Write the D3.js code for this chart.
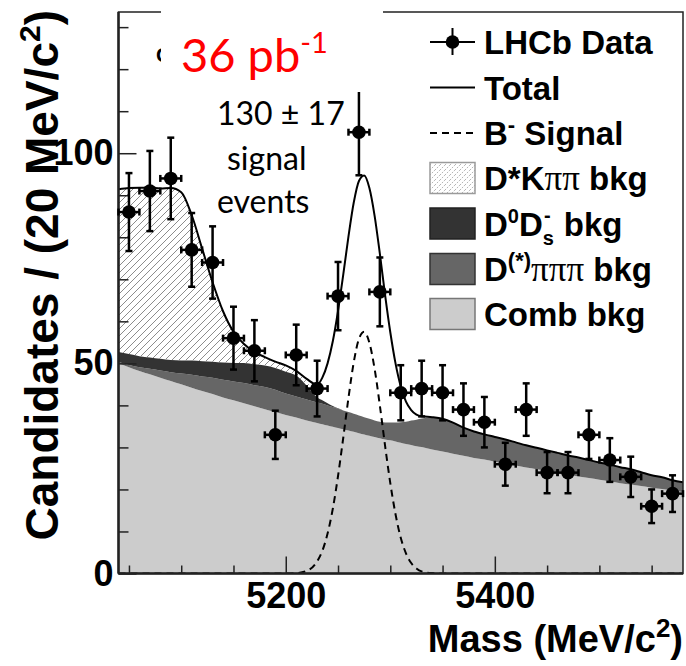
<!DOCTYPE html>
<html>
<head>
<meta charset="utf-8">
<script src="https://cdn.jsdelivr.net/npm/d3@7"></script>
<style>
  html, body { margin: 0; padding: 0; background: #fff; }
  svg { display: block; }
  .root { font-family: "Liberation Sans", Arial, Helvetica, sans-serif; font-weight: bold; }
  .calibri { font-family: Lato, "Open Sans", sans-serif; font-weight: normal; }
</style>
</head>
<body>
<svg id="chart" width="686" height="666"></svg>
<script>
// ---- Data: candidates per 20 MeV/c^2 bin ----
const binMass = [5050, 5070, 5090, 5110, 5130, 5150, 5170, 5190, 5210, 5230, 5250, 5270, 5290, 5310,
                 5330, 5350, 5370, 5390, 5410, 5430, 5450, 5470, 5490, 5510, 5530, 5550, 5570];
const counts = [86, 91, 94, 77, 74, 56, 53, 33, 52, 44, 66, 105, 67, 43,
                44, 43, 39, 36, 26, 39, 24, 24, 33, 27, 23, 16, 19];
const countErr = [9.27, 9.54, 9.70, 8.77, 8.60, 7.48, 7.28, 5.74, 7.21, 6.63, 8.12, 10.25, 8.19, 6.56,
                  6.63, 6.56, 6.24, 6.00, 5.10, 6.24, 4.90, 4.90, 5.74, 5.20, 4.80, 4.00, 4.36];
const binHalfWidth = 10;

// ---- Fit components, evaluated along the mass axis ----
const fitMass = [5040, 5050, 5060, 5070, 5080, 5090, 5100, 5110, 5120, 5130, 5140, 5150, 5160, 5170, 5180, 5190, 5200, 5210, 5220, 5230,
                 5235, 5240, 5245, 5250, 5255, 5260, 5265, 5270, 5275, 5280, 5285, 5290, 5295, 5300, 5305, 5310, 5315, 5320, 5325,
                 5330, 5340, 5350, 5360, 5370, 5380, 5390, 5400, 5410, 5420, 5430, 5440, 5450, 5460, 5470, 5480, 5490, 5500,
                 5510, 5520, 5530, 5540, 5550, 5560, 5570, 5580];
const combBkg = [50.0, 49.1, 48.2, 47.4, 46.6, 45.8, 45.0, 44.2, 43.4, 42.7, 41.9, 41.2, 40.5, 39.8, 39.1, 38.4, 37.7, 37.1, 36.4, 35.8,
                 35.5, 35.2, 34.9, 34.6, 34.3, 34.0, 33.7, 33.4, 33.1, 32.8, 32.5, 32.2, 31.9, 31.7, 31.4, 31.1, 30.8, 30.6, 30.3,
                 30.1, 29.5, 29.0, 28.5, 28.0, 27.5, 27.1, 26.6, 26.1, 25.7, 25.2, 24.8, 24.4, 23.9, 23.5, 23.1, 22.7, 22.3,
                 21.9, 21.5, 21.2, 20.8, 20.4, 20.1, 19.7, 19.4];
const dPiPiPiBkg = [0.3, 0.5, 0.9, 1.3, 1.7, 2.1, 2.6, 3.1, 3.5, 3.9, 4.2, 4.5, 4.8, 5.0, 5.3, 5.3, 5.1, 5.0, 5.0, 4.9,
                    4.9, 4.8, 4.7, 4.6, 4.5, 4.4, 4.3, 4.2, 4.1, 4.0, 3.9, 3.9, 4.0, 4.2, 4.5, 4.9, 5.3, 5.8, 6.3,
                    6.8, 7.6, 7.8, 7.4, 6.7, 6.3, 6.0, 5.9, 5.8, 5.5, 5.3, 5.1, 4.9, 4.8, 4.6, 4.5, 4.3, 4.1,
                    4.0, 3.8, 3.6, 3.3, 3.0, 2.8, 2.5, 2.3];
const d0DsBkg = [2.4, 2.6, 2.6, 2.7, 2.8, 2.9, 3.1, 3.4, 3.6, 3.8, 4.1, 4.4, 4.8, 5.0, 5.1, 5.2, 5.2, 5.0, 3.3, 1.2,
                 0.8, 0.5, 0.25, 0.1, 0, 0, 0, 0, 0, 0, 0, 0, 0, 0, 0, 0, 0, 0, 0,
                 0, 0, 0, 0, 0, 0, 0, 0, 0, 0, 0, 0, 0, 0, 0, 0, 0, 0,
                 0, 0, 0, 0, 0, 0, 0, 0];
const dstarKPiPiBkg = [38.7, 39.5, 40.1, 40.4, 40.5, 40.9, 40.0, 34.6, 26.8, 18.9, 12.2, 7.4, 4.5, 2.9, 2.0, 1.5, 1.5, 1.0, 1.0, 0.1,
                       0, 0, 0, 0, 0, 0, 0, 0, 0, 0, 0, 0, 0, 0, 0, 0, 0, 0, 0,
                       0, 0, 0, 0, 0, 0, 0, 0, 0, 0, 0, 0, 0, 0, 0, 0, 0, 0,
                       0, 0, 0, 0, 0, 0, 0, 0];
const signal = [0, 0, 0, 0, 0, 0, 0, 0, 0, 0, 0, 0, 0, 0, 0, 0, 0, 0.1, 0.6, 2.9,
                5.4, 9.5, 15.4, 23.2, 32.3, 41.8, 50.2, 55.8, 57.5, 54.9, 48.7, 40.0, 30.4, 21.5, 14.1, 8.5, 4.8, 2.5, 1.2,
                0.5, 0.1, 0, 0, 0, 0, 0, 0, 0, 0, 0, 0, 0, 0, 0, 0, 0, 0,
                0, 0, 0, 0, 0, 0, 0, 0];

// ---- Axes ----
const xDomain = [5040, 5580];
const yDomain = [0, 133.6];
const xMajorTicks = [5200, 5400];
const xMinorTicks = [5050, 5100, 5150, 5250, 5300, 5350, 5450, 5500, 5550];
const yMajorTicks = [0, 50, 100];
const yMinorTicks = [10, 20, 30, 40, 60, 70, 80, 90, 110, 120, 130];

const plot = { left: 118.5, right: 683, top: 12, bottom: 573.5 };
const svg = d3.select('#chart');
const x = d3.scaleLinear().domain(xDomain).range([plot.left, plot.right]);
const y = d3.scaleLinear().domain(yDomain).range([plot.bottom, plot.top]);

const defs = svg.append('defs');
defs.append('clipPath').attr('id', 'plotClip').append('rect')
  .attr('x', plot.left).attr('y', plot.top)
  .attr('width', plot.right - plot.left).attr('height', plot.bottom - plot.top);

// "///" hatch used for the D*Kpipi component
const hatch = defs.append('pattern').attr('id', 'hatch')
  .attr('patternUnits', 'userSpaceOnUse').attr('width', 7).attr('height', 7);
hatch.append('path').attr('d', 'M-1,1 L1,-1 M0,7 L7,0 M6,8 L8,6')
  .attr('stroke', '#8c8c8c').attr('stroke-width', 1);
// finer dotted hatch for the legend swatch
const hatchKey = defs.append('pattern').attr('id', 'hatchKey')
  .attr('patternUnits', 'userSpaceOnUse').attr('width', 5).attr('height', 5);
hatchKey.append('path').attr('d', 'M-1,1 L1,-1 M0,5 L5,0 M4,6 L6,4')
  .attr('stroke', '#a0a0a0').attr('stroke-width', 0.8).attr('stroke-dasharray', '1.5,1.2');

// ---- Stacked background components ----
const rows = fitMass.map((m, i) => ({
  m, comb: combBkg[i], dpi: dPiPiPiBkg[i], d0ds: d0DsBkg[i], dstar: dstarKPiPiBkg[i], sig: signal[i]
}));
const layers = d3.stack().keys(['comb', 'dpi', 'd0ds', 'dstar'])(rows);
const layerFill = { comb: '#cccccc', dpi: '#666666', d0ds: '#333333', dstar: 'url(#hatch)' };

const plotG = svg.append('g').attr('clip-path', 'url(#plotClip)');
const area = d3.area()
  .x(d => x(d.data.m)).y0(d => y(d[0])).y1(d => y(d[1]))
  .curve(d3.curveMonotoneX);
plotG.selectAll('path.layer').data(layers).join('path')
  .attr('class', 'layer').attr('fill', d => layerFill[d.key]).attr('d', area);

// signal shape (dashed) and total fit (solid)
plotG.append('path').datum(rows)
  .attr('fill', 'none').attr('stroke', '#000').attr('stroke-width', 2)
  .attr('stroke-dasharray', '7,5')
  .attr('d', d3.line().x(d => x(d.m)).y(d => y(d.sig)).curve(d3.curveMonotoneX));
plotG.append('path').datum(rows)
  .attr('fill', 'none').attr('stroke', '#000').attr('stroke-width', 2)
  .attr('d', d3.line().x(d => x(d.m))
    .y(d => y(d.comb + d.dpi + d.d0ds + d.dstar + d.sig)).curve(d3.curveMonotoneX));

// ---- Frame and ticks ----
function styleAxis(g) {
  g.select('.domain').remove();
  g.selectAll('.tick line').attr('stroke', '#222').attr('stroke-width', 1.5);
  g.selectAll('.tick text').attr('class', 'root').attr('fill', '#000')
    .attr('font-size', 36).attr('font-family', null);
}
svg.append('g').attr('transform', `translate(${plot.left},0)`)
  .call(d3.axisLeft(y).tickValues(yMajorTicks).tickSize(-18).tickPadding(5).tickFormat(d3.format('d')))
  .call(styleAxis);
svg.append('g').attr('transform', `translate(${plot.left},0)`)
  .call(d3.axisLeft(y).tickValues(yMinorTicks).tickSize(-10).tickFormat(''))
  .call(styleAxis);
svg.append('g').attr('transform', `translate(0,${plot.bottom})`)
  .call(d3.axisBottom(x).tickValues(xMajorTicks).tickSize(-17).tickPadding(9).tickFormat(d3.format('d')))
  .call(styleAxis);
svg.append('g').attr('transform', `translate(0,${plot.bottom})`)
  .call(d3.axisBottom(x).tickValues(xMinorTicks).tickSize(-8).tickFormat(''))
  .call(styleAxis);

svg.append('rect')
  .attr('x', plot.left).attr('y', plot.top)
  .attr('width', plot.right - plot.left).attr('height', plot.bottom - plot.top)
  .attr('fill', 'none').attr('stroke', '#222').attr('stroke-width', 1.5);
svg.append('line').attr('x1', plot.left).attr('x2', plot.left)
  .attr('y1', plot.top).attr('y2', plot.bottom).attr('stroke', '#222').attr('stroke-width', 2.5);
svg.append('line').attr('x1', plot.left).attr('x2', plot.right)
  .attr('y1', plot.bottom).attr('y2', plot.bottom).attr('stroke', '#222').attr('stroke-width', 2.5);

// ---- Data points with error bars ----
const pts = binMass.map((m, i) => ({ m, n: counts[i], e: countErr[i] }));
const cap = 3.5;
const ptG = svg.append('g').attr('stroke', '#000').attr('stroke-width', 2.5);
ptG.selectAll('g').data(pts).join('g').each(function (d) {
  const g = d3.select(this);
  const cx = x(d.m), cy = y(d.n), yt = y(d.n + d.e), yb = y(d.n - d.e);
  const xl = x(d.m - binHalfWidth), xr = x(d.m + binHalfWidth);
  g.append('line').attr('x1', cx).attr('x2', cx).attr('y1', yt).attr('y2', yb);
  g.append('line').attr('x1', cx - cap).attr('x2', cx + cap).attr('y1', yt).attr('y2', yt);
  g.append('line').attr('x1', cx - cap).attr('x2', cx + cap).attr('y1', yb).attr('y2', yb);
  g.append('line').attr('x1', xl).attr('x2', xr).attr('y1', cy).attr('y2', cy);
  g.append('line').attr('x1', xl).attr('x2', xl).attr('y1', cy - cap).attr('y2', cy + cap);
  g.append('line').attr('x1', xr).attr('x2', xr).attr('y1', cy - cap).attr('y2', cy + cap);
  g.append('circle').attr('cx', cx).attr('cy', cy).attr('r', 6.8).attr('fill', '#000').attr('stroke', 'none');
});

// ---- Axis titles ----
const xt = svg.append('text').attr('class', 'root').attr('font-size', 38)
  .attr('x', plot.right).attr('y', 652).attr('text-anchor', 'end');
xt.append('tspan').text('Mass (MeV/c');
xt.append('tspan').attr('font-size', 26).attr('dy', -15).text('2');
xt.append('tspan').attr('dy', 15).text(')');

const yt = svg.append('text').attr('class', 'root').attr('font-size', 46)
  .attr('transform', 'translate(58,10) rotate(-90)').attr('text-anchor', 'end');
yt.append('tspan').text('Candidates / (20 MeV/c');
yt.append('tspan').attr('font-size', 30).attr('dy', -18).text('2');
yt.append('tspan').attr('dy', 18).text(')');

// ---- Luminosity label box ----
svg.append('text').attr('class', 'root').attr('font-size', 21).attr('x', 156).attr('y', 62).text('C');
svg.append('rect').attr('x', 161).attr('y', 0).attr('width', 222).attr('height', 92).attr('fill', '#fff');
const lumi = svg.append('text').attr('class', 'calibri').attr('fill', '#ff0000')
  .attr('font-size', 47).attr('x', 181).attr('y', 72);
lumi.append('tspan').text('36 pb');
lumi.append('tspan').attr('font-size', 29).attr('dy', -19).text('-1');

// ---- Signal yield annotation ----
const ann = svg.append('g').attr('class', 'calibri').attr('font-size', 32).attr('fill', '#000');
ann.append('text').attr('x', 217).attr('y', 125).text('130 \u00b1 17');
ann.append('text').attr('x', 227).attr('y', 170).text('signal');
ann.append('text').attr('x', 217).attr('y', 213).text('events');

// ---- Legend ----
const lx0 = 430, lx1 = 475, lxc = (lx0 + lx1) / 2, ltx = 484;
const rowY = [42, 87.5, 133, 178, 223.5, 269, 314];
const leg = svg.append('g');

leg.append('line').attr('x1', lx0).attr('x2', lx1).attr('y1', rowY[0]).attr('y2', rowY[0])
  .attr('stroke', '#000').attr('stroke-width', 2);
leg.append('line').attr('x1', lxc).attr('x2', lxc).attr('y1', rowY[0] - 14).attr('y2', rowY[0] + 13)
  .attr('stroke', '#000').attr('stroke-width', 2);
leg.append('circle').attr('cx', lxc).attr('cy', rowY[0]).attr('r', 6.8).attr('fill', '#000');

leg.append('line').attr('x1', lx0).attr('x2', lx1).attr('y1', rowY[1]).attr('y2', rowY[1])
  .attr('stroke', '#000').attr('stroke-width', 2);
leg.append('line').attr('x1', lx0).attr('x2', lx1).attr('y1', rowY[2]).attr('y2', rowY[2])
  .attr('stroke', '#000').attr('stroke-width', 2).attr('stroke-dasharray', '7,5');

const swatches = [
  { row: 3, fill: 'url(#hatchKey)', stroke: '#9a9a9a' },
  { row: 4, fill: '#333333', stroke: '#222' },
  { row: 5, fill: '#666666', stroke: '#333' },
  { row: 6, fill: '#cccccc', stroke: '#777' }
];
swatches.forEach(s => {
  leg.append('rect').attr('x', lx0).attr('y', rowY[s.row] - 15.5)
    .attr('width', lx1 - lx0).attr('height', 31)
    .attr('fill', s.fill).attr('stroke', s.stroke).attr('stroke-width', 1.5);
});

function legendText(row) {
  return leg.append('text').attr('class', 'root').attr('font-size', 33)
    .attr('x', ltx).attr('y', rowY[row] + 12);
}
legendText(0).text('LHCb Data');
legendText(1).text('Total');
{
  const t = legendText(2);
  t.append('tspan').text('B');
  t.append('tspan').attr('font-size', 22).attr('dy', -13).text('-');
  t.append('tspan').attr('dy', 13).text(' Signal');
}
{
  const t = legendText(3);
  t.append('tspan').text('D*K');
  t.append('tspan').attr('font-family', '"Liberation Serif", "Times New Roman", serif')
    .attr('font-weight', 'normal').attr('font-size', 35).text('\u03c0\u03c0');
  t.append('tspan').text(' bkg');
}
{
  // D0 Ds- : subscript s with the charge stacked above it
  const t = legendText(4);
  t.append('tspan').text('D');
  t.append('tspan').attr('font-size', 20).attr('dy', -13).text('0');
  t.append('tspan').attr('dy', 13).text('D');
  t.append('tspan').attr('font-size', 20).attr('dy', 9).text('s');
  t.append('tspan').attr('font-size', 20).attr('dx', -10).attr('dy', -23).text('-');
  t.append('tspan').attr('dx', 4).attr('dy', 14).text(' bkg');
}
{
  const t = legendText(5);
  t.append('tspan').text('D');
  t.append('tspan').attr('font-size', 22).attr('dy', -13).text('(*)');
  t.append('tspan').attr('dy', 13).attr('font-family', '"Liberation Serif", "Times New Roman", serif')
    .attr('font-weight', 'normal').attr('font-size', 35).text('\u03c0\u03c0\u03c0');
  t.append('tspan').text(' bkg');
}
legendText(6).text('Comb bkg');
</script>
</body>
</html>
